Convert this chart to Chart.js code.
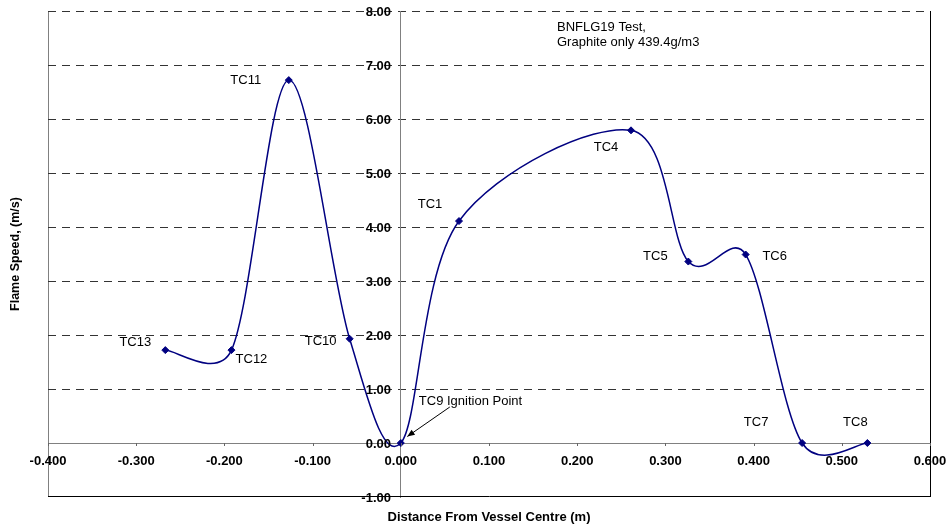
<!DOCTYPE html>
<html>
<head>
<meta charset="utf-8">
<script src="https://cdn.jsdelivr.net/npm/chart.js@4/dist/chart.umd.min.js"></script>
<style>
  html, body { margin: 0; padding: 0; background: #ffffff; }
  canvas { display: block; }
</style>
</head>
<body>
<canvas id="chart" width="947" height="525"></canvas>
<script>
// Thermocouple positions and measured flame speeds
const pointLabels = ['TC13', 'TC12', 'TC11', 'TC10', 'TC9 Ignition Point', 'TC1', 'TC4', 'TC5', 'TC6', 'TC7', 'TC8'];
const distance    = [-0.267, -0.192, -0.127, -0.058, 0.000, 0.066, 0.261, 0.326, 0.391, 0.455, 0.529];
const flameSpeed  = [1.72, 1.72, 6.72, 1.93, 0.00, 4.11, 5.79, 3.36, 3.49, 0.00, 0.00];

// Axis ticks
const xTicks = [-0.4, -0.3, -0.2, -0.1, 0.0, 0.1, 0.2, 0.3, 0.4, 0.5, 0.6];
const yTicks = [-1, 0, 1, 2, 3, 4, 5, 6, 7, 8];

// Titles and note
const xTitle = 'Distance From Vessel Centre (m)';
const yTitle = 'Flame Speed, (m/s)';
const noteLines = ['BNFLG19 Test,', 'Graphite only 439.4g/m3'];

// Label placement relative to each marker: [dx, dy, align]
const labelOffsets = [
  [-30, -8, 'center'], [20, 9, 'center'], [-43, 0, 'center'], [-29, 3, 'center'],
  [18, -42, 'left'], [-29, -17, 'center'], [-25, 17, 'center'], [-33, -5, 'center'],
  [29, 2, 'center'], [-46, -21, 'center'], [-12, -21, 'center']
];

const FONT = '"Liberation Sans", Arial, sans-serif';
const NAVY = '#000080';

// Spreadsheet-style smoothing: tangent = (next - prev) / 6, limited to half
// of the adjoining segment so short segments do not loop.
const smoothCurve = {
  id: 'smoothCurve',
  beforeDatasetsDraw(chart) {
    const meta = chart.getDatasetMeta(0);
    const line = meta.dataset;
    if (!line) return;
    line.updateControlPoints(chart.chartArea, 'x');
    const pts = meta.data;
    const n = pts.length;
    const dist = (a, b) => Math.hypot(b.x - a.x, b.y - a.y);
    for (let i = 0; i < n; i++) {
      const p = pts[i];
      const a = pts[Math.max(0, i - 1)];
      const b = pts[Math.min(n - 1, i + 1)];
      const tx = b.x - a.x, ty = b.y - a.y;
      const tl = Math.hypot(tx, ty) || 1;
      if (i > 0) {
        const f = Math.min(1 / 6, dist(pts[i - 1], p) / (2 * tl));
        p.cp1x = p.x - tx * f;
        p.cp1y = p.y - ty * f;
      } else {
        p.cp1x = p.x; p.cp1y = p.y;
      }
      if (i < n - 1) {
        const f = Math.min(1 / 6, dist(p, pts[i + 1]) / (2 * tl));
        p.cp2x = p.x + tx * f;
        p.cp2y = p.y + ty * f;
      } else {
        p.cp2x = p.x; p.cp2y = p.y;
      }
    }
  }
};

const decorations = {
  id: 'decorations',
  afterDraw(chart) {
    const { ctx, chartArea: a, scales: { x, y } } = chart;
    const x0 = Math.round(x.getPixelForValue(0));
    const y0 = Math.round(y.getPixelForValue(0));
    ctx.save();

    // bottom edge of the plot frame
    const yb = Math.round(y.getPixelForValue(yTicks[0]));
    ctx.strokeStyle = '#000000';
    ctx.lineWidth = 1;
    ctx.beginPath();
    ctx.moveTo(a.left, yb - 0.5);
    ctx.lineTo(a.right + 1, yb - 0.5);
    ctx.stroke();

    // tick marks below the horizontal axis
    ctx.strokeStyle = '#666666';
    ctx.beginPath();
    xTicks.forEach(v => {
      const px = Math.round(x.getPixelForValue(v)) + 0.5;
      ctx.moveTo(px, y0);
      ctx.lineTo(px, y0 + 3);
    });
    ctx.stroke();

    // tick labels
    ctx.fillStyle = '#000000';
    ctx.font = 'bold 13px ' + FONT;
    ctx.textAlign = 'center';
    ctx.textBaseline = 'middle';
    xTicks.forEach(v => {
      ctx.fillText(v.toFixed(3), x.getPixelForValue(v), y0 + 18);
    });
    ctx.textAlign = 'right';
    yTicks.forEach(v => {
      ctx.fillText(v.toFixed(2), x0 - 10, y.getPixelForValue(v) + 1);
    });

    // axis titles
    ctx.textAlign = 'center';
    ctx.fillText(xTitle, (a.left + a.right) / 2, 517);
    ctx.save();
    ctx.translate(16, (a.top + a.bottom) / 2);
    ctx.rotate(-Math.PI / 2);
    ctx.font = 'bold 12.5px ' + FONT;
    ctx.fillText(yTitle, 0, 0);
    ctx.restore();

    // thermocouple labels
    ctx.font = '13px ' + FONT;
    const meta = chart.getDatasetMeta(0);
    meta.data.forEach((pt, i) => {
      const [dx, dy, align] = labelOffsets[i];
      ctx.textAlign = align;
      ctx.fillText(pointLabels[i], pt.x + dx, pt.y + dy);
    });

    // arrow to the ignition point
    const ign = meta.data[4];
    const sx = ign.x + 49, sy = ign.y - 36;
    const ex = ign.x + 6.5, ey = ign.y - 6.5;
    ctx.strokeStyle = '#000000';
    ctx.lineWidth = 1;
    ctx.beginPath();
    ctx.moveTo(sx, sy);
    ctx.lineTo(ex, ey);
    ctx.stroke();
    const ang = Math.atan2(ey - sy, ex - sx);
    ctx.beginPath();
    ctx.moveTo(ex, ey);
    ctx.lineTo(ex - 8 * Math.cos(ang - 0.4), ey - 8 * Math.sin(ang - 0.4));
    ctx.lineTo(ex - 8 * Math.cos(ang + 0.4), ey - 8 * Math.sin(ang + 0.4));
    ctx.closePath();
    ctx.fillStyle = '#000000';
    ctx.fill();

    // note
    ctx.font = '13px ' + FONT;
    ctx.textAlign = 'left';
    ctx.fillText(noteLines[0], 557, 27);
    ctx.fillText(noteLines[1], 557, 42);

    ctx.restore();
  }
};

new Chart(document.getElementById('chart').getContext('2d'), {
  type: 'scatter',
  data: {
    datasets: [{
      data: distance.map((d, i) => ({ x: d, y: flameSpeed[i] })),
      showLine: true,
      tension: 0.5,
      borderColor: NAVY,
      borderWidth: 1.5,
      pointStyle: 'rectRot',
      pointRadius: 3.5,
      pointBackgroundColor: NAVY,
      pointBorderColor: NAVY,
      pointBorderWidth: 1
    }]
  },
  options: {
    responsive: false,
    animation: false,
    devicePixelRatio: 1,
    layout: { padding: { left: 48, right: 17, top: 11, bottom: 28 } },
    plugins: { legend: { display: false }, tooltip: { enabled: false } },
    scales: {
      x: {
        type: 'linear',
        min: xTicks[0],
        max: xTicks[xTicks.length - 1],
        position: { y: 0 },
        afterBuildTicks: s => { s.ticks = xTicks.map(v => ({ value: v })); },
        ticks: { display: false },
        grid: {
          drawTicks: false,
          color: c => {
            if (!c.tick) return 'rgba(0,0,0,0)';
            if (c.tick.value === xTicks[0]) return '#808080';
            if (c.tick.value === xTicks[xTicks.length - 1]) return '#000000';
            return 'rgba(0,0,0,0)';
          }
        },
        border: { display: true, color: '#808080', width: 1 }
      },
      y: {
        type: 'linear',
        min: yTicks[0],
        max: yTicks[yTicks.length - 1],
        position: { x: 0 },
        afterBuildTicks: s => { s.ticks = yTicks.map(v => ({ value: v })); },
        ticks: { display: false },
        grid: {
          drawTicks: false,
          lineWidth: 1,
          color: c => (c.tick && (c.tick.value === 0 || c.tick.value === yTicks[0])) ? 'rgba(0,0,0,0)' : '#333333'
        },
        border: { display: true, color: '#808080', width: 1, dash: [8, 6] }
      }
    }
  },
  plugins: [smoothCurve, decorations]
});
</script>
</body>
</html>
